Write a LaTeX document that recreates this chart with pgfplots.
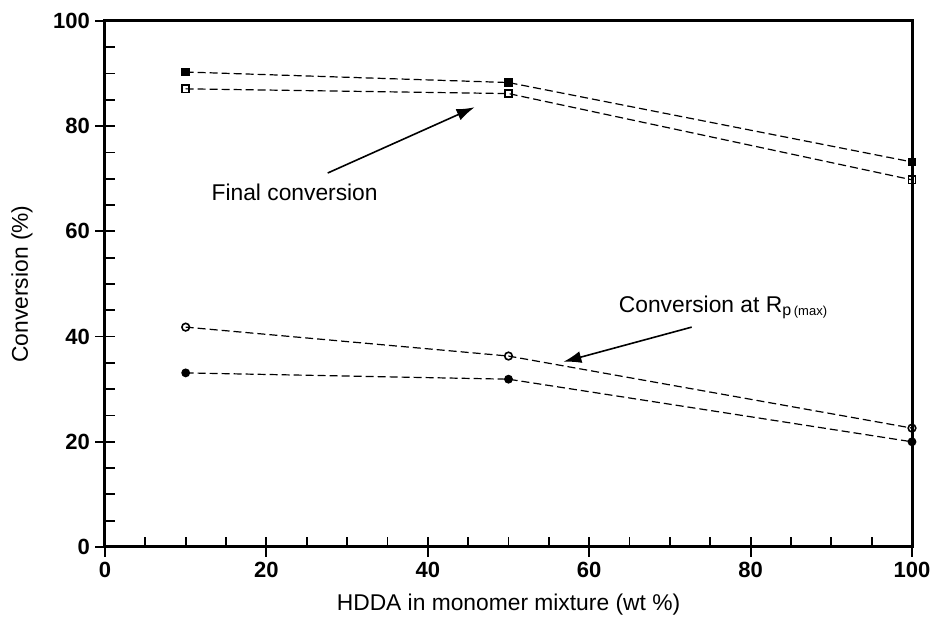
\documentclass[border=0pt]{standalone}
\usepackage{fontspec}
\setmainfont{Liberation Sans}
\usepackage{pgfplots}
\pgfplotsset{compat=1.18}
\usetikzlibrary{arrows.meta}

\begin{document}
\begin{tikzpicture}
\begin{axis}[
    scale only axis,
    width=403.5pt, height=263pt,
    xmin=0, xmax=100, ymin=0, ymax=100,
    xtick={0,20,...,100}, ytick={0,20,...,100},
    minor x tick num=3, minor y tick num=3,
    xtick pos=bottom, ytick pos=left,
    tick align=inside,
    major tick length=5pt, minor tick length=5pt,
    axis line style={line width=1.5pt},
    every tick/.style={black, line width=0.9pt},
    /pgf/number format/assume math mode=true,
    tick label style={font=\fontsize{11}{13}\selectfont\bfseries},
    xticklabel style={yshift=-4pt},
    yticklabel style={xshift=-4pt},
    label style={font=\fontsize{11.4}{13}\selectfont},
    xlabel={HDDA in monomer mixture (wt \%)},
    ylabel={Conversion (\%)},
    xlabel style={at={(axis description cs:0.5,0)}, anchor=center, yshift=-29pt},
    ylabel style={at={(axis description cs:0,0.5)}, anchor=center, yshift=41.5pt},
    clip=false,
  ]
  % final conversion
  \addplot[black, line width=0.6pt, dash pattern=on 4pt off 2pt,
    mark=square*, mark size=1.8pt, mark options={solid}] coordinates {
    (10,90.3) (50,88.3) (100,73.2)
  };
  \addplot[black, line width=0.6pt, dash pattern=on 4pt off 2pt,
    mark=square, mark size=1.8pt, mark options={solid, fill=white, line width=0.8pt}] coordinates {
    (10,87.1) (50,86.2) (100,69.8)
  };
  % conversion at Rp(max)
  \addplot[black, line width=0.6pt, dash pattern=on 4pt off 2pt,
    mark=o, mark size=1.9pt, mark options={solid, fill=white, line width=0.8pt}] coordinates {
    (10,41.8) (50,36.3) (100,22.6)
  };
  \addplot[black, line width=0.6pt, dash pattern=on 4pt off 2pt,
    mark=*, mark size=1.9pt, mark options={solid}] coordinates {
    (10,33.1) (50,31.9) (100,20.0)
  };
  % outward halves of the major ticks
  \pgfplotsinvokeforeach{0,20,40,60,80,100}{
    \draw[line width=0.9pt] (axis cs:#1,0) -- ++(0,-5pt);
    \draw[line width=0.9pt] (axis cs:0,#1) -- ++(-5pt,0);
  }
  \draw[-{Latex[length=9pt,width=6pt]}, line width=0.8pt] (axis cs:27.6,71.1) -- (axis cs:45.8,83.6);
  \node[font=\fontsize{11.4}{13}\selectfont] at (axis cs:23.5,67.5) {Final conversion};
  \draw[-{Latex[length=9pt,width=6pt]}, line width=0.8pt] (axis cs:72.7,41.8) -- (axis cs:56.8,35.2);
  \node[anchor=west, font=\fontsize{11.4}{13}\selectfont] at (axis cs:62.8,45.6)
    {Conversion at R\textsubscript{p\,{\fontsize{6.5}{7}\selectfont(max)}}};
\end{axis}
\pgfresetboundingbox
\path ([xshift=-52.5pt,yshift=-36.5pt]current axis.south west) rectangle ([xshift=10pt,yshift=10.5pt]current axis.north east);
\end{tikzpicture}
\end{document}
